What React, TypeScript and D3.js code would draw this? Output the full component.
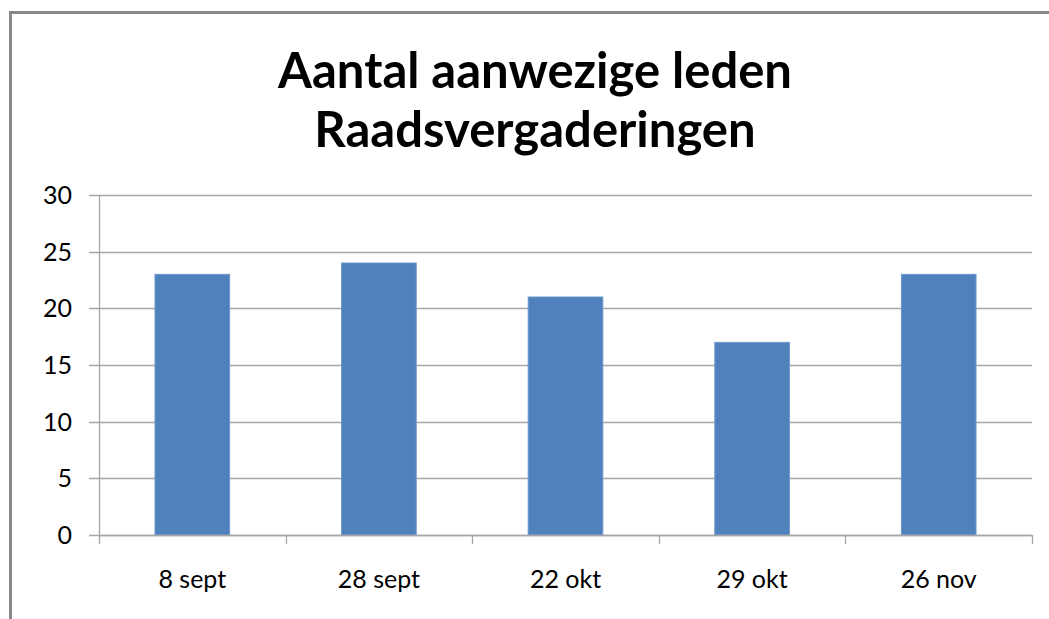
import React, { useRef, useEffect } from 'react';
import * as d3 from 'd3';

// Data
const categories = ['8 sept', '28 sept', '22 okt', '29 okt', '26 nov'];
const values = [23, 24, 21, 17, 23];
const yTicks = [0, 5, 10, 15, 20, 25, 30];
const titleLines = ['Aantal aanwezige leden', 'Raadsvergaderingen'];

const W = 1049;
const H = 619;
const FONT = 'Lato, "Open Sans", sans-serif';

const App = () => {
    const svgRef = useRef<SVGSVGElement>(null);

    useEffect(() => {
        const svg = d3.select(svgRef.current);
        svg.selectAll('*').remove();

        // Plot area
        const left = 99, right = 1032, top = 195, bottom = 535;

        // outer chart frame (cropped on the right and bottom in the reference)
        svg.append('rect')
            .attr('x', 10.5).attr('y', 12.5)
            .attr('width', W + 20).attr('height', H + 20)
            .attr('fill', '#fff')
            .attr('stroke', '#878787')
            .attr('stroke-width', 3);

        // title
        svg.append('text')
            .attr('x', 535)
            .attr('y', 88)
            .attr('text-anchor', 'middle')
            .style('font-family', FONT)
            .style('font-weight', 700)
            .style('font-size', '49px')
            .attr('fill', '#000')
            .selectAll('tspan')
            .data(titleLines)
            .enter().append('tspan')
            .attr('x', 535)
            .attr('dy', (d, i) => (i === 0 ? 0 : 59))
            .text(d => d);

        const x = d3.scaleBand()
            .domain(categories)
            .range([left, right])
            .padding(0);

        const y = d3.scaleLinear()
            .domain([0, 30])
            .range([bottom, top]);

        // gridlines + y tick marks
        svg.append('g')
            .selectAll('line')
            .data(yTicks)
            .enter().append('line')
            .attr('x1', left - 10)
            .attr('x2', right)
            .attr('y1', d => Math.round(y(d)) + 0.5)
            .attr('y2', d => Math.round(y(d)) + 0.5)
            .attr('stroke', '#a6a6a6')
            .attr('stroke-width', 1.3);

        // y labels
        svg.append('g')
            .selectAll('text')
            .data(yTicks)
            .enter().append('text')
            .attr('x', 72)
            .attr('y', d => y(d) + 9)
            .attr('text-anchor', 'end')
            .style('font-family', FONT)
            .style('font-size', '25px')
            .attr('fill', '#000')
            .text(d => d);

        // bars
        const barW = x.bandwidth() * 0.4;
        svg.append('g')
            .selectAll('rect')
            .data(values)
            .enter().append('rect')
            .attr('x', (d, i) => (x(categories[i]) as number) + (x.bandwidth() - barW) / 2)
            .attr('y', d => y(d))
            .attr('width', barW)
            .attr('height', d => bottom - y(d))
            .attr('fill', '#4f81bd')
            .attr('stroke', '#6f98cc')
            .attr('stroke-width', 1);

        // y axis line
        svg.append('line')
            .attr('x1', left + 0.5).attr('x2', left + 0.5)
            .attr('y1', top).attr('y2', bottom)
            .attr('stroke', '#a6a6a6')
            .attr('stroke-width', 1.3);

        // x axis line
        svg.append('line')
            .attr('x1', left).attr('x2', right)
            .attr('y1', Math.round(bottom) + 0.5).attr('y2', Math.round(bottom) + 0.5)
            .attr('stroke', '#a6a6a6')
            .attr('stroke-width', 1.3);

        // category boundary ticks
        const boundaries = categories.map(c => x(c) as number).concat([right]);
        svg.append('g')
            .selectAll('line')
            .data(boundaries)
            .enter().append('line')
            .attr('x1', d => Math.round(d) + 0.5)
            .attr('x2', d => Math.round(d) + 0.5)
            .attr('y1', bottom)
            .attr('y2', bottom + 9)
            .attr('stroke', '#a6a6a6')
            .attr('stroke-width', 1.3);

        // x labels
        svg.append('g')
            .selectAll('text')
            .data(categories)
            .enter().append('text')
            .attr('x', d => (x(d) as number) + x.bandwidth() / 2)
            .attr('y', 588)
            .attr('text-anchor', 'middle')
            .style('font-family', FONT)
            .style('font-size', '25px')
            .attr('fill', '#000')
            .text(d => d);
    }, []);

    return (
        <svg
            ref={svgRef}
            width={W}
            height={H}
            style={{ position: 'absolute', left: 0, top: 0, display: 'block' }}
        />
    );
};

export default App;
